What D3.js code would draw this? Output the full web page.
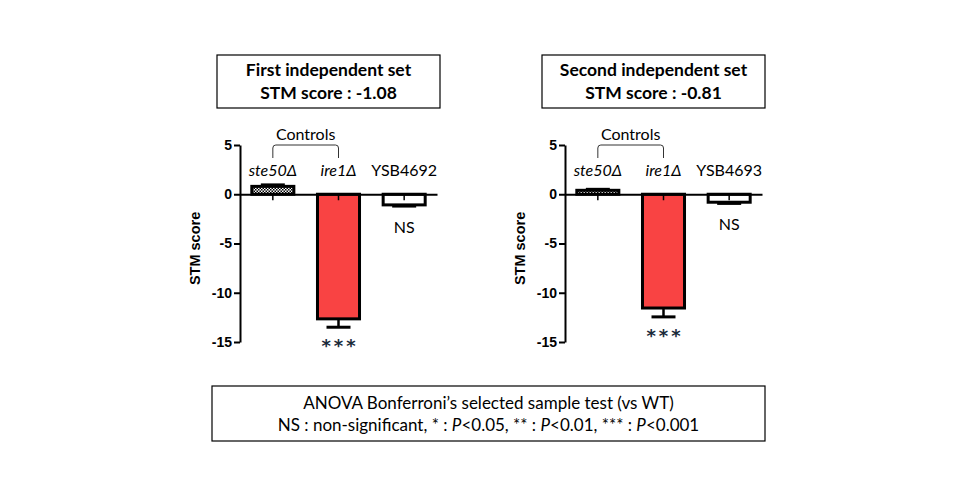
<!DOCTYPE html>
<html>
<head>
<meta charset="utf-8">
<script src="https://cdn.jsdelivr.net/npm/d3@7"></script>
<style>
  body { margin: 0; background: #fff; }
  svg { display: block; }
</style>
</head>
<body>
<div id="chart"></div>
<script>
// data
var panelTitles = ["First independent set", "Second independent set"];
var panelScores = ["STM score : -1.08", "STM score : -0.81"];
var strains1 = ["ste50\u0394", "ire1\u0394", "YSB4692"];
var strains2 = ["ste50\u0394", "ire1\u0394", "YSB4693"];
var values1 = [0.8, -12.65, -1.08];
var errors1 = [0.15, 0.85, 0.12];
var values2 = [0.4, -11.55, -0.81];
var errors2 = [0.1, 0.9, 0.12];
var signif = ["", "***", "NS"];
var yTicks = [5, 0, -5, -10, -15];
var noteLines = ["ANOVA Bonferroni\u2019s selected sample test (vs WT)",
                 "NS : non-significant, * : |P|<0.05, ** : |P|<0.01, *** : |P|<0.001"];

var W = 960, H = 500;
var sans = "Lato, 'Open Sans', sans-serif";
var arial = "'Liberation Sans', Arial, sans-serif";

var svg = d3.select("#chart").append("svg")
  .attr("width", W).attr("height", H);

// checker pattern for ste50 bar
var defs = svg.append("defs");
var pat = defs.append("pattern")
  .attr("id", "checker")
  .attr("patternUnits", "userSpaceOnUse")
  .attr("width", 3).attr("height", 3);
pat.append("rect").attr("width", 3).attr("height", 3).attr("fill", "#fff");
pat.append("rect").attr("width", 1.5).attr("height", 1.5).attr("fill", "#000");
pat.append("rect").attr("x", 1.5).attr("y", 1.5).attr("width", 1.5).attr("height", 1.5).attr("fill", "#000");

var fills = ["url(#checker)", "#f94343", "#fff"];

function drawPanel(x0, strains, values, errors, title, score){
  var g = svg.append("g");

  var x = d3.scaleBand()
    .domain(strains)
    .range([x0, x0 + 197])
    .paddingInner(0.36)
    .paddingOuter(0.18);
  var y = d3.scaleLinear()
    .domain([-15, 5])
    .range([342, 145]);

  // title box
  g.append("rect")
    .attr("x", x0 - 23).attr("y", 55)
    .attr("width", 223).attr("height", 53)
    .attr("fill", "none").attr("stroke", "#000").attr("stroke-width", 1.2);
  g.append("text")
    .attr("x", x0 + 88.5).attr("y", 76)
    .attr("text-anchor", "middle")
    .style("font-family", sans).style("font-weight", "bold").style("font-size", "17.5px")
    .text(title);
  g.append("text")
    .attr("x", x0 + 88.5).attr("y", 99)
    .attr("text-anchor", "middle")
    .style("font-family", sans).style("font-weight", "bold").style("font-size", "17.5px")
    .text(score);

  // bars
  var idx = d3.range(strains.length);
  g.selectAll(".bar").data(idx).enter().append("rect")
    .attr("class", "bar")
    .attr("x", function(i){ return x(strains[i]); })
    .attr("width", x.bandwidth())
    .attr("y", function(i){ return y(Math.max(0, values[i])); })
    .attr("height", function(i){ return Math.abs(y(values[i]) - y(0)); })
    .attr("fill", function(i){ return fills[i]; })
    .attr("stroke", "#000")
    .attr("stroke-width", 3);

  // error bars, pointing away from zero
  idx.forEach(function(i){
    var cx = x(strains[i]) + x.bandwidth() / 2;
    var end = values[i] + (values[i] < 0 ? -errors[i] : errors[i]);
    g.append("line")
      .attr("x1", cx).attr("x2", cx)
      .attr("y1", y(values[i])).attr("y2", y(end))
      .attr("stroke", "#000").attr("stroke-width", 2.5);
    g.append("line")
      .attr("x1", cx - 12).attr("x2", cx + 12)
      .attr("y1", y(end)).attr("y2", y(end))
      .attr("stroke", "#000").attr("stroke-width", 3);
  });

  // axes
  var xAxis = g.append("g")
    .attr("transform", "translate(0," + y(0) + ")")
    .call(d3.axisBottom(x).tickSize(6).tickSizeOuter(0).tickFormat(""));
  xAxis.select(".domain").attr("stroke-width", 2);
  xAxis.selectAll(".tick line").attr("stroke-width", 1.5);

  var yAxis = g.append("g")
    .attr("transform", "translate(" + x0 + ",0)")
    .call(d3.axisLeft(y).tickValues(yTicks).tickSize(6).tickSizeOuter(0)
      .tickFormat(function(d){ return String(d); }));
  yAxis.select(".domain").attr("stroke-width", 2);
  yAxis.selectAll(".tick line").attr("stroke-width", 2);
  yAxis.selectAll(".tick text")
    .attr("x", -8)
    .style("font-family", arial).style("font-weight", "bold").style("font-size", "14px")
    .attr("fill", "#000");

  g.append("text")
    .attr("transform", "translate(" + (x0 - 40) + "," + y(-5.5) + ") rotate(-90)")
    .attr("text-anchor", "middle")
    .style("font-family", arial).style("font-weight", "bold").style("font-size", "14.5px")
    .text("STM score");

  // strain labels
  g.selectAll(".lab").data(idx).enter().append("text")
    .attr("class", "lab")
    .attr("x", function(i){ return x(strains[i]) + x.bandwidth() / 2; })
    .attr("y", y(0) - 18)
    .attr("text-anchor", "middle")
    .style("font-family", sans).style("font-size", "16px")
    .style("font-style", function(i){ return i < 2 ? "italic" : "normal"; })
    .text(function(i){ return strains[i]; });

  // controls bracket
  var c0 = x(strains[0]) + x.bandwidth() / 2;
  var c1 = x(strains[1]) + x.bandwidth() / 2;
  g.append("path")
    .attr("d", "M" + c0 + ",158 L" + c0 + ",148 Q" + c0 + ",145 " + (c0 + 3) + ",145 L" +
      (c1 - 3) + ",145 Q" + c1 + ",145 " + c1 + ",148 L" + c1 + ",158")
    .attr("fill", "none").attr("stroke", "#333").attr("stroke-width", 1);
  g.append("text")
    .attr("x", (c0 + c1) / 2).attr("y", 140)
    .attr("text-anchor", "middle")
    .style("font-family", sans).style("font-size", "16px")
    .text("Controls");

  // significance marks
  idx.forEach(function(i){
    if (!signif[i]) return;
    var cx = x(strains[i]) + x.bandwidth() / 2;
    var end = values[i] - errors[i];
    var stars = signif[i] == "***";
    g.append("text")
      .attr("x", cx + (stars ? 1.5 : 0))
      .attr("y", stars ? y(end) + 25 : y(end) + 27)
      .attr("text-anchor", "middle")
      .style("font-family", stars ? "'DejaVu Sans', sans-serif" : sans)
      .style("font-size", stars ? "18px" : "16px")
      .style("font-weight", stars ? "bold" : "normal")
      .style("letter-spacing", stars ? "3px" : "0px")
      .attr("fill", stars ? "#1a2a3a" : "#000")
      .text(signif[i]);
  });
}

drawPanel(240, strains1, values1, errors1, panelTitles[0], panelScores[0]);
drawPanel(565, strains2, values2, errors2, panelTitles[1], panelScores[1]);

// note box
svg.append("rect")
  .attr("x", 212).attr("y", 386)
  .attr("width", 553).attr("height", 55)
  .attr("fill", "none").attr("stroke", "#000").attr("stroke-width", 1.2);

noteLines.forEach(function(line, k){
  var t = svg.append("text")
    .attr("x", 488.5).attr("y", 409 + k * 22)
    .attr("text-anchor", "middle")
    .style("font-family", sans).style("font-size", "17px");
  // parts between bars are italic (the P)
  line.split("|").forEach(function(part, j){
    t.append("tspan")
      .style("font-style", j % 2 ? "italic" : "normal")
      .text(part);
  });
});
</script>
</body>
</html>
